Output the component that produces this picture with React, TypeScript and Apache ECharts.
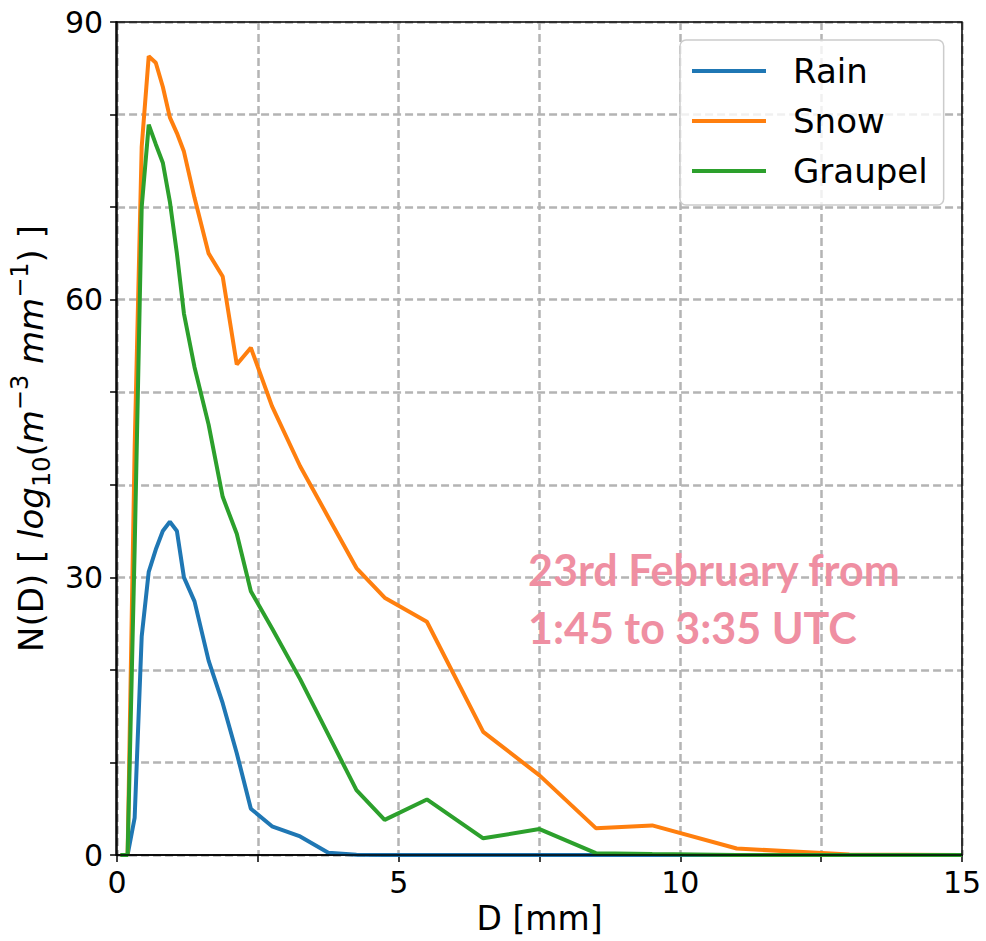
import React, { useEffect, useRef } from "react";
import * as echarts from "echarts";

const dBins = [0.062, 0.187, 0.312, 0.437, 0.562, 0.687, 0.812, 0.937, 1.062, 1.187, 1.375, 1.625, 1.875, 2.125, 2.375, 2.75, 3.25, 3.75, 4.25, 4.75, 5.5, 6.5, 7.5, 8.5, 9.5, 11, 13, 15];
const rain = [0, 0, 4, 23.6, 30.6, 33, 35, 36, 35, 30, 27.4, 21, 16.4, 11, 5, 3.1, 2.0, 0.25, 0.02, 0.01, 0.01, 0, 0, 0, 0, 0, 0, 0];
const snow = [0, 0, 44, 76.5, 86.3, 85.6, 83, 79.7, 78, 76, 71, 65, 62.5, 53, 54.8, 48.5, 42, 36.5, 31, 27.8, 25.2, 13.3, 8.6, 2.9, 3.2, 0.7, 0.05, 0];
const graupel = [0, 0, 33, 70, 78.9, 76.8, 74.8, 70.6, 65, 58.5, 52.7, 46.5, 38.7, 34.7, 28.5, 24.5, 19, 13, 7, 3.8, 6.0, 1.8, 2.8, 0.2, 0.1, 0, 0, 0];
const seriesNames = ["Rain", "Snow", "Graupel"];
const seriesColors = ["#1f77b4", "#ff7f0e", "#2ca02c"];
const xTickLabels = [0, 5, 10, 15];
const yTickLabels = [0, 30, 60, 90];
const annotationLines = ["23rd February from", "1:45 to 3:35 UTC"];

export default function App() {
  const ref = useRef<HTMLDivElement>(null);
  useEffect(() => {
    if (!ref.current) return;
    const chart = echarts.init(ref.current, null, { renderer: "svg" });
    const font = "DejaVu Sans";
    const gridLine = { show: true, lineStyle: { color: "#b4b4b4", width: 2.5, type: [8, 4] as any } };
    const values = [rain, snow, graupel];
    const G = { left: 116, top: 22, right: 24, bottom: 86 };
    chart.setOption({
      animation: false,
      backgroundColor: "#ffffff",
      grid: { left: G.left, right: G.right, top: G.top, bottom: G.bottom, show: false },
      xAxis: {
        type: "value", min: 0, max: 15, interval: 2.5,
        name: "D [mm]", nameLocation: "middle", nameGap: 42,
        nameTextStyle: { fontFamily: font, fontSize: 33, color: "#000" },
        axisLine: { show: true, onZero: false, lineStyle: { color: "#000", width: 1.5 } },
        axisTick: { show: true, length: 7, lineStyle: { color: "#000", width: 1.5 } },
        axisLabel: {
          fontFamily: font, fontSize: 30, color: "#000", margin: 12,
          formatter: (v: number) => (xTickLabels.includes(v) ? String(v) : ""),
        },
        splitLine: gridLine,
      },
      yAxis: {
        type: "value", min: 0, max: 90, interval: 10,
        name: "{n|N(D) [ }{i|log}{sub|10}{n|(}{i|m}{sup|−3}{i| mm}{sup|−1}{n|) ]}",
        nameLocation: "middle", nameGap: 50, nameRotate: 90,
        nameTextStyle: {
          fontFamily: font, fontSize: 34, color: "#000",
          rich: {
            n: { fontFamily: font, fontSize: 34, lineHeight: 46, verticalAlign: "middle", color: "#000" },
            i: { fontFamily: font, fontSize: 34, fontStyle: "italic", lineHeight: 46, verticalAlign: "middle", color: "#000" },
            sub: { fontFamily: font, fontSize: 24, lineHeight: 24, verticalAlign: "bottom", color: "#000" },
            sup: { fontFamily: font, fontSize: 24, lineHeight: 24, verticalAlign: "top", color: "#000" },
          },
        },
        axisLine: { show: true, lineStyle: { color: "#000", width: 1.5 } },
        axisTick: { show: true, length: 7, lineStyle: { color: "#000", width: 1.5 } },
        axisLabel: {
          fontFamily: font, fontSize: 30, color: "#000", margin: 14,
          formatter: (v: number) => (yTickLabels.includes(v) ? String(v) : ""),
        },
        splitLine: gridLine,
      },
      legend: {
        orient: "vertical", left: 680, top: 40,
        padding: [14, 16, 17, 12],
        itemGap: 16, itemWidth: 74, itemHeight: 4, icon: "rect",
        backgroundColor: "rgba(255,255,255,0.8)", borderColor: "#cccccc", borderWidth: 1.5, borderRadius: 6,
        textStyle: { fontFamily: font, fontSize: 34, color: "#000", lineHeight: 34, padding: [0, 0, 0, 22] },
        data: seriesNames,
      },
      series: seriesNames.map((name, k) => ({
        name, type: "line", showSymbol: false, symbol: "none",
        color: seriesColors[k],
        lineStyle: { width: 4, color: seriesColors[k] },
        data: dBins.map((d, j) => [d, values[k][j]]),
        z: 3 + k,
      })),
      graphic: [
        ...annotationLines.map((t, k) => ({
          type: "text", left: 528, top: 548 + k * 58, z: 10,
          style: { text: t, font: "bold 43px Lato", fill: "#ef8fa2" },
        })),
        {
          type: "rect", z: 50, silent: true,
          shape: { x: G.left, y: G.top, width: 986 - G.left - G.right, height: 941 - G.top - G.bottom },
          style: { fill: "none", stroke: "#000", lineWidth: 1.5 },
        },
      ],
    });
    return () => chart.dispose();
  }, []);
  return <div ref={ref} style={{ position: "fixed", left: 0, top: 0, width: 986, height: 941 }} />;
}
